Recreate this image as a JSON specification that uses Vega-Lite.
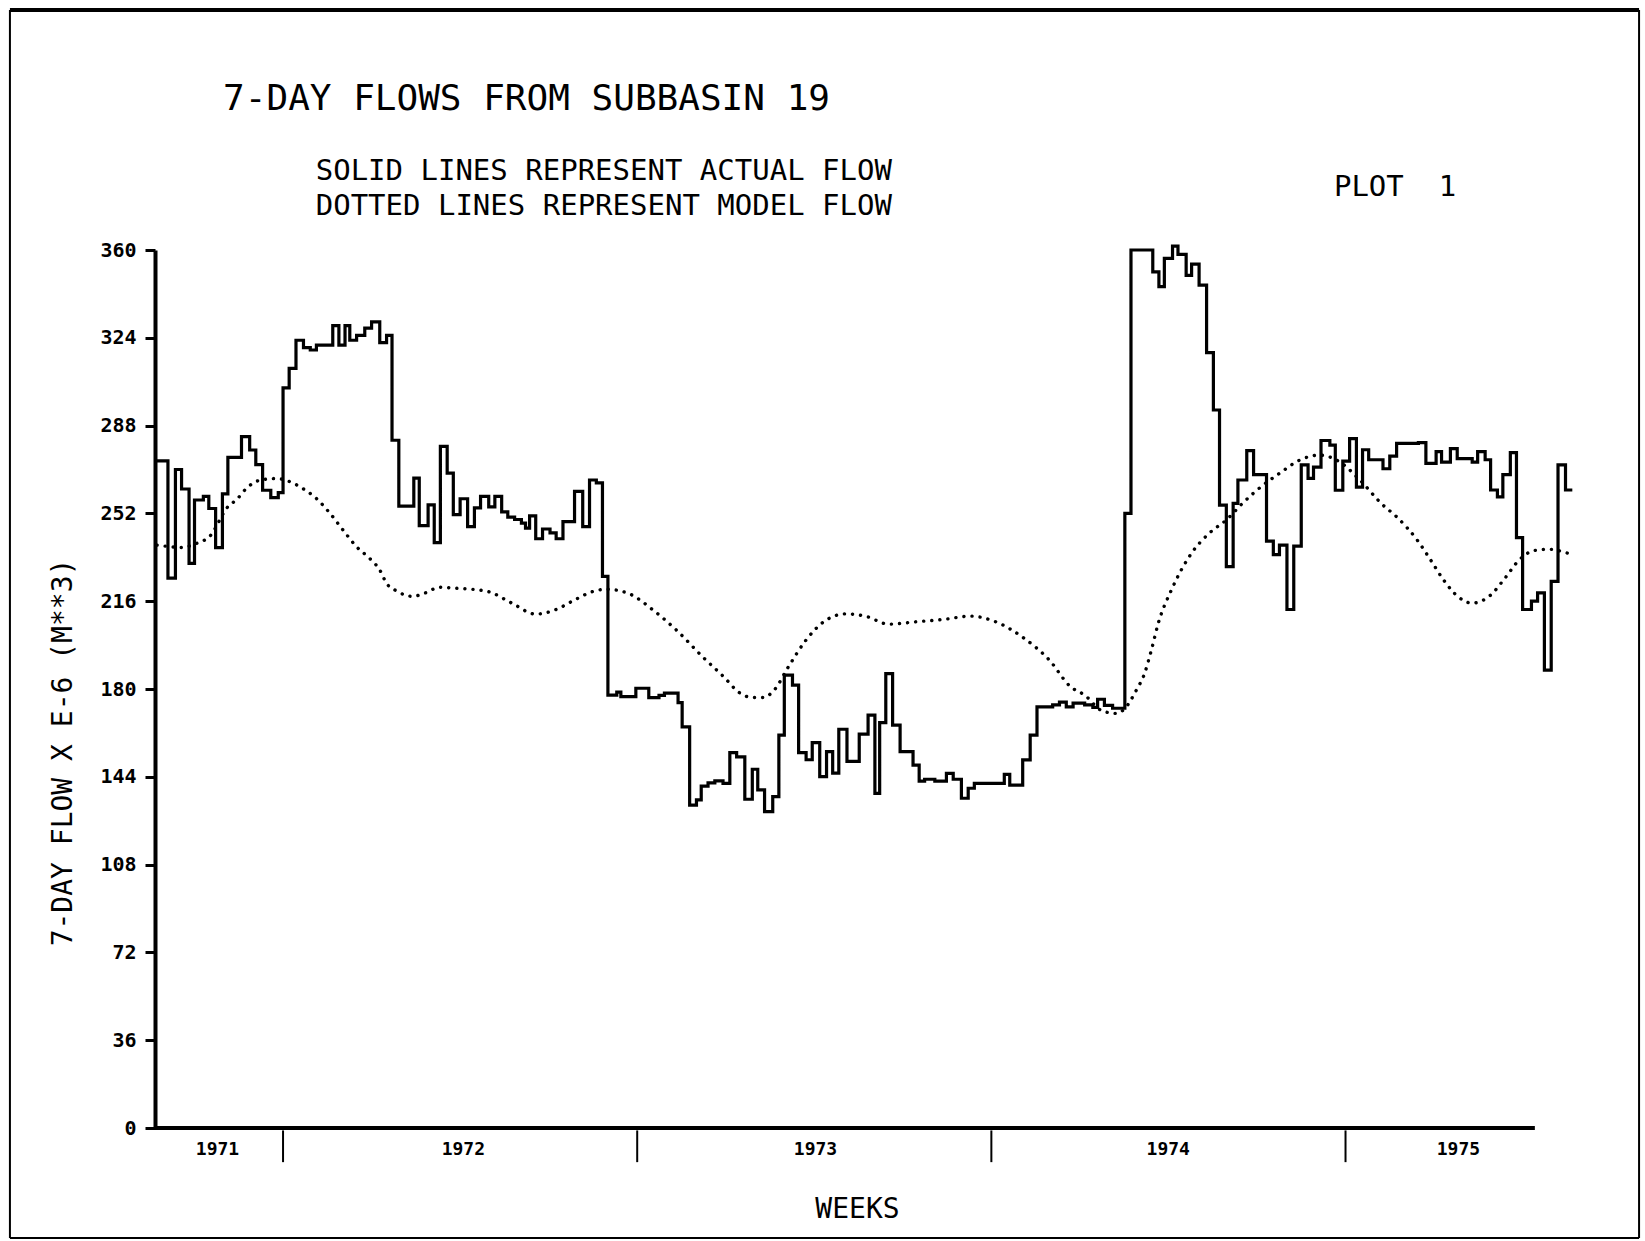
{
  "$schema": "https://vega.github.io/schema/vega-lite/v6.json",
  "width": 1418,
  "height": 878,
  "autosize": {"type": "none"},
  "padding": {"left": 155, "top": 250, "right": 72, "bottom": 113},
  "background": "white",
  "config": {"view": {"stroke": null}, "font": "DejaVu Sans Mono"},
  "resolve": {"axis": {"x": "independent", "y": "independent"}},
  "datasets": {
    "actual": [
      {"week":33.2,"flow":273.5},{"week":35.1,"flow":225.5},{"week":36.2,"flow":270},{"week":37.1,"flow":262},{"week":38.2,"flow":231.5},{"week":39.0,"flow":257.5},{"week":40.3,"flow":259},{"week":41.1,"flow":254},{"week":42.1,"flow":238},{"week":43.1,"flow":260},{"week":43.9,"flow":275},{"week":45.9,"flow":283.5},{"week":47.1,"flow":278},{"week":48.0,"flow":272},{"week":49.0,"flow":261.5},{"week":50.2,"flow":258.5},{"week":51.3,"flow":260.5},{"week":52.0,"flow":303.5},{"week":52.9,"flow":311.5},{"week":53.9,"flow":323},{"week":55.0,"flow":320},{"week":56.0,"flow":319},{"week":56.9,"flow":321},{"week":59.3,"flow":329},{"week":60.2,"flow":321},{"week":61.1,"flow":329},{"week":61.8,"flow":323},{"week":62.8,"flow":325},{"week":64.0,"flow":328},{"week":65.0,"flow":330.5},{"week":66.2,"flow":322},{"week":67.2,"flow":325},{"week":68.0,"flow":282},{"week":69.0,"flow":255},{"week":71.2,"flow":266.5},{"week":72.0,"flow":247},{"week":73.3,"flow":255.5},{"week":74.2,"flow":240},{"week":75.1,"flow":279.5},{"week":76.1,"flow":268.5},{"week":77.0,"flow":251.5},{"week":78.0,"flow":258},{"week":79.1,"flow":246.6},{"week":80.1,"flow":254.3},{"week":81.0,"flow":259},{"week":82.2,"flow":254.7},{"week":83.1,"flow":259},{"week":84.1,"flow":252.6},{"week":85.0,"flow":250.5},{"week":86.0,"flow":249.5},{"week":87.0,"flow":248},{"week":87.6,"flow":246},{"week":88.2,"flow":251},{"week":89.1,"flow":241.6},{"week":90.1,"flow":245.6},{"week":91.2,"flow":244},{"week":92.1,"flow":241.6},{"week":93.1,"flow":248.6},{"week":94.8,"flow":261},{"week":96.0,"flow":246.6},{"week":97.0,"flow":265.7},{"week":98.0,"flow":264.5},{"week":98.9,"flow":226.2},{"week":99.7,"flow":177.5},{"week":101.0,"flow":178.7},{"week":101.6,"flow":176.9},{"week":103.8,"flow":180.3},{"week":105.7,"flow":176.5},{"week":107.2,"flow":177.4},{"week":108.0,"flow":178.3},{"week":110.0,"flow":174.4},{"week":110.6,"flow":164.5},{"week":111.7,"flow":132.4},{"week":112.7,"flow":134.5},{"week":113.4,"flow":140.2},{"week":114.4,"flow":141.5},{"week":115.4,"flow":142.3},{"week":116.6,"flow":141.3},{"week":117.6,"flow":153.9},{"week":118.6,"flow":152.2},{"week":119.8,"flow":134.8},{"week":120.9,"flow":147.1},{"week":121.7,"flow":138.6},{"week":122.7,"flow":129.7},{"week":123.9,"flow":135.9},{"week":124.8,"flow":161.1},{"week":125.6,"flow":185.7},{"week":126.8,"flow":181.6},{"week":127.7,"flow":153.9},{"week":128.8,"flow":151},{"week":129.7,"flow":158},{"week":130.8,"flow":144.1},{"week":131.8,"flow":154.3},{"week":132.7,"flow":145.5},{"week":133.6,"flow":163.5},{"week":134.8,"flow":150.3},{"week":136.6,"flow":161.5},{"week":137.9,"flow":169.3},{"week":138.9,"flow":137.2},{"week":139.6,"flow":166.2},{"week":140.5,"flow":186.3},{"week":141.5,"flow":165.2},{"week":142.6,"flow":154.3},{"week":144.5,"flow":148.8},{"week":145.4,"flow":142.2},{"week":146.2,"flow":143},{"week":147.7,"flow":142.2},{"week":149.4,"flow":145.4},{"week":150.4,"flow":143},{"week":151.6,"flow":135.2},{"week":152.6,"flow":139.3},{"week":153.5,"flow":141.3},{"week":157.9,"flow":145},{"week":158.7,"flow":140.6},{"week":160.6,"flow":150.9},{"week":161.7,"flow":161.1},{"week":162.7,"flow":172.7},{"week":165.0,"flow":173.5},{"week":166.0,"flow":174.6},{"week":167.0,"flow":172.7},{"week":168.0,"flow":174.2},{"week":169.7,"flow":173.5},{"week":170.9,"flow":172.5},{"week":171.6,"flow":175.8},{"week":172.6,"flow":173.3},{"week":173.8,"flow":172.1},{"week":175.6,"flow":252},{"week":176.5,"flow":360},{"week":179.7,"flow":351},{"week":180.6,"flow":345},{"week":181.4,"flow":356.6},{"week":182.6,"flow":361.6},{"week":183.4,"flow":358.2},{"week":184.6,"flow":349.6},{"week":185.4,"flow":354.2},{"week":186.5,"flow":345.6},{"week":187.6,"flow":317.9},{"week":188.6,"flow":294.4},{"week":189.5,"flow":255.4},{"week":190.5,"flow":230.2},{"week":191.5,"flow":256.1},{"week":192.2,"flow":265.7},{"week":193.5,"flow":277.7},{"week":194.5,"flow":267.9},{"week":196.4,"flow":240.6},{"week":197.4,"flow":235.1},{"week":198.3,"flow":239},{"week":199.4,"flow":212.6},{"week":200.4,"flow":238.6},{"week":201.5,"flow":271.9},{"week":202.5,"flow":266.4},{"week":203.3,"flow":271},{"week":204.4,"flow":281.9},{"week":205.7,"flow":280},{"week":206.5,"flow":261.5},{"week":207.6,"flow":273.4},{"week":208.6,"flow":282.7},{"week":209.6,"flow":262.8},{"week":210.5,"flow":278.1},{"week":211.4,"flow":274},{"week":213.5,"flow":270.3},{"week":214.5,"flow":275.5},{"week":215.5,"flow":280.7},{"week":218.7,"flow":281},{"week":219.8,"flow":272.5},{"week":221.3,"flow":277.3},{"week":222.1,"flow":273},{"week":223.4,"flow":278.6},{"week":224.4,"flow":274.5},{"week":226.6,"flow":273},{"week":227.4,"flow":277.3},{"week":228.5,"flow":274},{"week":229.3,"flow":261.6},{"week":230.3,"flow":258.8},{"week":231.1,"flow":267.9},{"week":232.2,"flow":276.9},{"week":233.1,"flow":242.1},{"week":234.0,"flow":212.6},{"week":235.3,"flow":216},{"week":236.2,"flow":219.4},{"week":237.2,"flow":187.7},{"week":238.2,"flow":224.1},{"week":239.2,"flow":271.9},{"week":240.3,"flow":261.6},{"week":241.3,"flow":261.6}
    ],
    "model": [
      {"week":33.5,"flow":239},{"week":35,"flow":238.5},{"week":37,"flow":238},{"week":39.3,"flow":239.7},{"week":41.2,"flow":242.5},{"week":43.9,"flow":254.7},{"week":45.2,"flow":257.7},{"week":46.6,"flow":262.2},{"week":48.6,"flow":265.6},{"week":51.0,"flow":266.3},{"week":53.0,"flow":265},{"week":54.9,"flow":262.2},{"week":56.9,"flow":258.1},{"week":58.9,"flow":252},{"week":60.8,"flow":245.2},{"week":62.8,"flow":238.3},{"week":64.7,"flow":233.6},{"week":66.2,"flow":228.8},{"week":67.2,"flow":223.3},{"week":68.6,"flow":220.3},{"week":71.0,"flow":218},{"week":73.0,"flow":219.5},{"week":74.9,"flow":221.7},{"week":77.5,"flow":221.3},{"week":80,"flow":220.8},{"week":82.2,"flow":219.9},{"week":85.6,"flow":215.2},{"week":89.1,"flow":210.7},{"week":92.0,"flow":212.5},{"week":94.8,"flow":216.5},{"week":97.4,"flow":219.9},{"week":99.5,"flow":220.9},{"week":102.7,"flow":219.2},{"week":106.5,"flow":212},{"week":110,"flow":203.5},{"week":113.6,"flow":193.2},{"week":116.7,"flow":185},{"week":119,"flow":178.5},{"week":120.9,"flow":176.5},{"week":122.5,"flow":176.5},{"week":124.1,"flow":179.5},{"week":126.2,"flow":189.1},{"week":128.8,"flow":200.1},{"week":131.4,"flow":207.6},{"week":134.6,"flow":210.8},{"week":137.7,"flow":209.7},{"week":140.9,"flow":206.6},{"week":145.1,"flow":207.6},{"week":149.2,"flow":208.6},{"week":152.9,"flow":209.9},{"week":156.6,"flow":207.6},{"week":160.8,"flow":200.8},{"week":164.5,"flow":191.9},{"week":167.6,"flow":181},{"week":169.7,"flow":177.5},{"week":172.3,"flow":171},{"week":174.4,"flow":170},{"week":175.6,"flow":172},{"week":177.3,"flow":179.6},{"week":178.5,"flow":186.4},{"week":179.5,"flow":196},{"week":180.5,"flow":206.9},{"week":182.5,"flow":221},{"week":185.4,"flow":235.7},{"week":188,"flow":243.9},{"week":190.5,"flow":249.3},{"week":192.9,"flow":256.2},{"week":195.9,"flow":263.6},{"week":198.3,"flow":268.4},{"week":201.3,"flow":273.9},{"week":204.2,"flow":275.9},{"week":207.1,"flow":273.2},{"week":210.1,"flow":265.7},{"week":213.5,"flow":255.4},{"week":215.5,"flow":250.6},{"week":218.7,"flow":240.4},{"week":220.5,"flow":232.9},{"week":222.4,"flow":224.7},{"week":224.5,"flow":217.9},{"week":226.6,"flow":215.2},{"week":229.3,"flow":218.5},{"week":231.4,"flow":225.4},{"week":233.5,"flow":232.9},{"week":235.6,"flow":236.7},{"week":237.8,"flow":237.3},{"week":239.9,"flow":236.3},{"week":241.3,"flow":235}
    ],
    "years": [{"start":52},{"start":104},{"start":156},{"start":208}],
    "frame": [{}]
  },
  "layer": [
    {
      "data": {"name": "actual"},
      "mark": {"type": "line", "interpolate": "step-after", "color": "black", "strokeWidth": 3.2, "strokeJoin": "miter"},
      "encoding": {
        "x": {
          "field": "week", "type": "quantitative",
          "scale": {"domain": [33.2, 241.4], "nice": false, "zero": false},
          "axis": {
            "values": [42.3, 78.4, 130.1, 181.9, 224.5],
            "labelExpr": "'' + (1971 + floor(datum.value / 52))",
            "domain": false, "ticks": false, "tickSize": 0, "grid": false,
            "labelFont": "DejaVu Sans Mono", "labelFontWeight": "bold", "labelFontSize": 18, "labelColor": "black", "labelPadding": 12,
            "title": "WEEKS", "titleFont": "DejaVu Sans Mono", "titleFontSize": 28, "titleFontWeight": "normal", "titleColor": "black", "titlePadding": 37, "titleX": 702
          }
        },
        "y": {
          "field": "flow", "type": "quantitative",
          "scale": {"domain": [0, 360], "nice": false},
          "axis": {
            "values": [0, 36, 72, 108, 144, 180, 216, 252, 288, 324, 360],
            "grid": false, "domainWidth": 4, "domainColor": "black",
            "tickSize": 10, "tickWidth": 3, "tickColor": "black",
            "labelFont": "DejaVu Sans Mono", "labelFontSize": 20, "labelFontWeight": "bold", "labelColor": "black", "labelPadding": 9,
            "title": "7-DAY FLOW X E-6 (M**3)", "titleFont": "DejaVu Sans Mono", "titleFontSize": 28, "titleFontWeight": "normal", "titleColor": "black",
            "titleX": -92, "titleY": 502, "titleBaseline": "middle", "titleAngle": 270
          }
        }
      }
    },
    {
      "data": {"name": "model"},
      "mark": {"type": "line", "interpolate": "monotone", "color": "black", "strokeWidth": 3.4, "strokeDash": [0.1, 8], "strokeCap": "round"},
      "encoding": {
        "x": {"field": "week", "type": "quantitative", "scale": {"domain": [33.2, 241.4], "nice": false, "zero": false}, "axis": null},
        "y": {"field": "flow", "type": "quantitative", "scale": {"domain": [0, 360], "nice": false}, "axis": null}
      }
    },
    {
      "data": {"name": "frame"},
      "mark": {"type": "rule", "color": "black", "strokeWidth": 4},
      "encoding": {
        "x": {"datum": 33.2, "type": "quantitative", "axis": null},
        "x2": {"datum": 235.8},
        "y": {"datum": 0, "type": "quantitative", "axis": null}
      }
    },
    {
      "data": {"name": "years"},
      "mark": {"type": "rule", "color": "black", "strokeWidth": 2},
      "encoding": {
        "x": {"field": "start", "type": "quantitative", "axis": null},
        "y": {"datum": -1, "type": "quantitative", "axis": null},
        "y2": {"datum": -14}
      }
    },
    {
      "data": {"values": [{"label": "7-DAY FLOWS FROM SUBBASIN 19"}]},
      "mark": {"type": "text", "align": "left", "baseline": "alphabetic", "font": "DejaVu Sans Mono", "fontSize": 36, "color": "black"},
      "encoding": {
        "x": {"datum": 43.2, "type": "quantitative", "axis": null},
        "y": {"datum": 417.4, "type": "quantitative", "axis": null},
        "text": {"field": "label"}
      }
    },
    {
      "data": {"values": [{"label": "SOLID LINES REPRESENT ACTUAL FLOW"}]},
      "mark": {"type": "text", "align": "left", "baseline": "alphabetic", "font": "DejaVu Sans Mono", "fontSize": 29, "color": "black"},
      "encoding": {
        "x": {"datum": 56.8, "type": "quantitative", "axis": null},
        "y": {"datum": 388.7, "type": "quantitative", "axis": null},
        "text": {"field": "label"}
      }
    },
    {
      "data": {"values": [{"label": "DOTTED LINES REPRESENT MODEL FLOW"}]},
      "mark": {"type": "text", "align": "left", "baseline": "alphabetic", "font": "DejaVu Sans Mono", "fontSize": 29, "color": "black"},
      "encoding": {
        "x": {"datum": 56.8, "type": "quantitative", "axis": null},
        "y": {"datum": 374.3, "type": "quantitative", "axis": null},
        "text": {"field": "label"}
      }
    },
    {
      "data": {"values": [{"label": "PLOT\u00a0\u00a01"}]},
      "mark": {"type": "text", "align": "left", "baseline": "middle", "font": "DejaVu Sans Mono", "fontSize": 29, "color": "black"},
      "encoding": {
        "x": {"datum": 206.3, "type": "quantitative", "axis": null},
        "y": {"datum": 385.8, "type": "quantitative", "axis": null},
        "text": {"field": "label"}
      }
    },
    {
      "data": {"name": "frame"},
      "mark": {"type": "rule", "color": "black", "strokeWidth": 4},
      "encoding": {
        "x": {"datum": 11.9, "type": "quantitative", "axis": null},
        "x2": {"datum": 251.1},
        "y": {"datum": 458.4, "type": "quantitative", "axis": null}
      }
    },
    {
      "data": {"name": "frame"},
      "mark": {"type": "rule", "color": "black", "strokeWidth": 2},
      "encoding": {
        "x": {"datum": 11.9, "type": "quantitative", "axis": null},
        "x2": {"datum": 251.1},
        "y": {"datum": -45.1, "type": "quantitative", "axis": null}
      }
    },
    {
      "data": {"name": "frame"},
      "mark": {"type": "rule", "color": "black", "strokeWidth": 2},
      "encoding": {
        "x": {"datum": 11.9, "type": "quantitative", "axis": null},
        "y": {"datum": -45.1, "type": "quantitative", "axis": null},
        "y2": {"datum": 458.4}
      }
    },
    {
      "data": {"name": "frame"},
      "mark": {"type": "rule", "color": "black", "strokeWidth": 2},
      "encoding": {
        "x": {"datum": 251.1, "type": "quantitative", "axis": null},
        "y": {"datum": -45.1, "type": "quantitative", "axis": null},
        "y2": {"datum": 458.4}
      }
    }
  ]
}
